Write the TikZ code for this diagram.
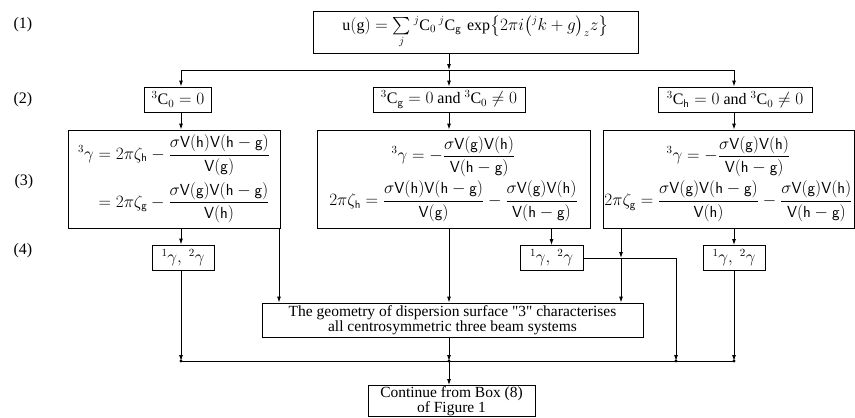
\documentclass[tikz,border=0pt]{standalone}
\usepackage{amsmath}
\usepackage{fontspec}
\setmainfont{Liberation Serif}
\newfontfamily\nolig{Liberation Serif}[Ligatures=TeXOff]
\usetikzlibrary{arrows.meta}
\newcommand{\Vs}[1]{\mathsf{V}(\mathsf{#1})}
\newcommand{\sbx}[1]{\mathsf{#1}}
\begin{document}
\begin{tikzpicture}[x=1pt,y=-1pt,
  every node/.style={font=\fontsize{16}{17}\selectfont},
  mathfont/.style={font=\fontsize{16}{18}\selectfont},
  twoline/.style={font=\fontsize{15.5}{15.5}\selectfont},
  box/.style={draw,line width=0.9pt,rectangle,inner sep=1pt,align=center},
  lab/.style={inner sep=0pt},
  line/.style={line width=0.9pt},
  arr/.style={line width=0.9pt,-{Latex[length=6pt,width=4pt]}}]
\useasboundingbox (0,0) rectangle (855,418);

% row labels
\node[lab] (r1) at (23,25) {(1)};
\node[lab] (r2) at (23,100) {(2)};
\node[lab] (r3) at (24,182) {(3)};
\node[lab] (r4) at (23,251) {(4)};

% top box
\node[box,mathfont,minimum width=325pt,minimum height=42pt,inner sep=0pt] (top) at (475.5,32)
  {$\mathrm{u(g)}=\sum\limits_{j}{}^{j}\mathrm{C}_{0}\,{}^{j}\mathrm{C}_{\sbx{g}}\,\exp\bigl\{2\pi i\bigl({}^{j}k+g\bigr)_{z}z\bigr\}$};

% condition boxes
\node[box,minimum width=67pt,minimum height=25pt] (condL) at (178,99.5) {${}^{3}\mathrm{C}_{0}=0$};
\node[box,minimum width=152pt,minimum height=25pt] (condM) at (449,99.5) {${}^{3}\mathrm{C}_{\sbx{g}}=0$ and ${}^{3}\mathrm{C}_{0}\neq0$};
\node[box,minimum width=154pt,minimum height=25pt] (condR) at (735,99.5) {${}^{3}\mathrm{C}_{\sbx{h}}=0$ and ${}^{3}\mathrm{C}_{0}\neq0$};

% big boxes
\node[box,mathfont,minimum width=212pt,minimum height=98pt] (bigL) at (174,179)
  {$\begin{aligned}{}^{3}\gamma&=2\pi\zeta_{\sbx{h}}-\frac{\sigma\Vs{h}\Vs{h-g}}{\Vs{g}}\\[3pt]
   &=2\pi\zeta_{\sbx{g}}-\frac{\sigma\Vs{g}\Vs{h-g}}{\Vs{h}}\end{aligned}$};
\node[box,mathfont,minimum width=273pt,minimum height=98pt] (bigM) at (453.5,179)
  {$\displaystyle {}^{3}\gamma=-\frac{\sigma\Vs{g}\Vs{h}}{\Vs{h-g}}$\\[3pt]
   $\displaystyle 2\pi\zeta_{\sbx{h}}=\frac{\sigma\Vs{h}\Vs{h-g}}{\Vs{g}}-\frac{\sigma\Vs{g}\Vs{h}}{\Vs{h-g}}$};
\node[box,mathfont,minimum width=251pt,minimum height=98pt,inner sep=0pt] (bigR) at (728.5,179)
  {$\displaystyle {}^{3}\gamma=-\frac{\sigma\Vs{g}\Vs{h}}{\Vs{h-g}}$\\[3pt]
   $\displaystyle 2\pi\zeta_{\sbx{g}}=\frac{\sigma\Vs{g}\Vs{h-g}}{\Vs{h}}-\frac{\sigma\Vs{g}\Vs{h}}{\Vs{h-g}}$};

% small boxes
\node[box,mathfont,minimum width=62pt,minimum height=25pt] (smL) at (183,257.5) {${}^{1}\gamma,\ {}^{2}\gamma$};
\node[box,mathfont,minimum width=63pt,minimum height=25pt] (smM) at (551.5,258) {${}^{1}\gamma,\ {}^{2}\gamma$};
\node[box,mathfont,minimum width=62pt,minimum height=25pt] (smR) at (734,258) {${}^{1}\gamma,\ {}^{2}\gamma$};

% geometry and continue
\node[box,twoline,minimum width=381pt,minimum height=34pt,inner sep=0pt] (geo) at (452.5,320)
  {The geometry of dispersion surface {\nolig"}3{\nolig"} characterises\\ all centrosymmetric three beam systems};
\node[box,twoline,minimum width=167pt,minimum height=31pt,inner sep=0pt] (cont) at (451.5,401)
  {Continue from Box (8)\\ of Figure 1};

% coordinates
\coordinate (tL) at (181,70);
\coordinate (tM) at (449,70);
\coordinate (tR) at (734,70);
\coordinate (bL) at (181,361);
\coordinate (bM) at (449,361);
\coordinate (bX) at (676,361);
\coordinate (bR) at (734,361);
\coordinate (xL) at (279,0);
\coordinate (xR) at (621,0);
\coordinate (kM) at (676,258);

% top distribution
\draw[arr] (top.south -| tM) -- (tM);
\draw[line] (tL) -- (tR);
\draw[arr] (tL) -- (tL |- condL.north);
\draw[arr] (tM) -- (tM |- condM.north);
\draw[arr] (tR) -- (tR |- condR.north);

% conditions to big boxes
\draw[arr] (condL.south -| tL) -- (tL |- bigL.north);
\draw[arr] (condM.south -| tM) -- (tM |- bigM.north);
\draw[arr] (condR.south -| tR) -- (tR |- bigR.north);

% big boxes to small boxes
\draw[arr] (bigL.south -| tL) -- (tL |- smL.north);
\draw[arr] (bigM.south -| smM) -- (smM.north);
\draw[arr] (bigR.south -| tR) -- (tR |- smR.north);

% big boxes to geometry
\draw[arr] (bigL.south -| xL) -- (xL |- geo.north);
\draw[arr] (bigM.south -| tM) -- (tM |- geo.north);
\draw[arr] (bigR.south -| xR) -- (xR |- smM.east);
\draw[arr] (xR |- smM.east) -- (xR |- geo.north);

% small boxes to bottom bus
\draw[arr] (smL.south -| bL) -- (bL);
\draw[line] (smM.east) -- (kM);
\draw[arr] (kM) -- (bX);
\draw[arr] (smR.south -| bR) -- (bR);
\draw[arr] (geo.south -| bM) -- (bM);
\draw[line] (bL) -- (bR);
\draw[arr] (bM) -- (cont.north -| bM);

% junction dots
\fill (bL) circle (1.6);
\fill (bM) circle (1.6);
\fill (bX) circle (1.6);
\fill (bR) circle (1.6);
\end{tikzpicture}
\end{document}
